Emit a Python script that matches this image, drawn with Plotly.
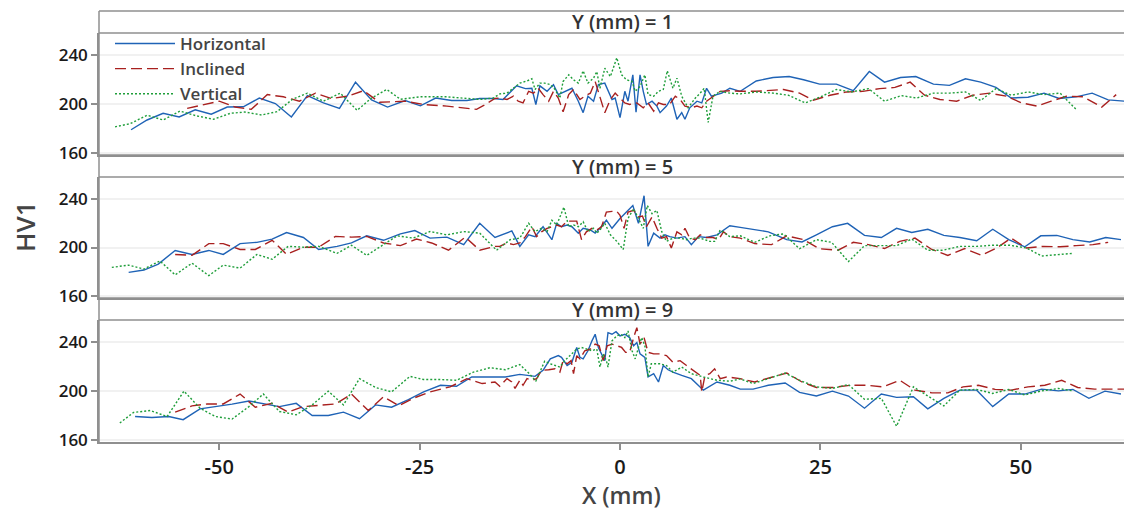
import plotly.graph_objects as go

# ---------------- data ----------------
series_names = ["Horizontal", "Inclined", "Vertical"]
panel_labels = ["Y (mm) = 1", "Y (mm) = 5", "Y (mm) = 9"]
x_tick_vals = [-50, -25, 0, 25, 50]
x_tick_text = ["-50", "-25", "0", "25", "50"]
y_tick_vals = [160, 200, 240]

# Y = 1
x_h1 = [-61, -59, -57, -55, -53, -51, -49, -47, -45, -43, -41, -39, -37, -35, -33, -31, -29, -26.8, -24.9, -23, -21, -19.1, -17.5, -15.8,
        -14.6, -12.9, -11.8, -11, -10.5, -10, -9.1, -8.3, -7.7, -6.9, -6, -5.2, -4.6, -4, -3.3, -2.7, -1.9, -1, -0.6, 0, 0.6, 1, 1.6, 2,
        2.5, 2.9, 3.3, 4, 4.6, 5, 5.8, 6.4, 7.1, 7.7, 8.1, 8.7, 9.6, 10.2, 10.8, 11.4, 12, 12.7, 13.7, 15, 17, 19.1, 21.1, 22.9, 24.9,
        27, 29.1, 31.1, 33, 35, 36.9, 39.1, 41.1, 43.1, 45, 46.9, 48.8, 50.9, 52.9, 54.8, 56.9, 58.9, 60.9, 63]
hv_h1 = [179, 187, 192.5, 189.5, 195.4, 191.7, 197.6, 197.8, 205, 200.5, 189.5, 207, 201, 196.5, 218, 203.5, 197.6, 203, 198.6, 205, 203, 203, 204.6, 204.6,
         203.8, 215, 212.7, 213, 199.7, 215, 210.5, 216, 207.8, 210.5, 213, 202.4, 193, 206.5, 202.4, 216, 217.2, 203.8, 205, 189, 210.5, 202.4, 224, 193.3,
         224, 210.5, 199.7, 202.4, 198.4, 193, 198.4, 205, 187.6, 193, 187.6, 197, 202.4, 201, 213, 206.5, 207.8, 209, 213, 210.5, 219, 221.8, 222.6, 220, 216.4,
         216.4, 211, 226.7, 218, 221.8, 222.6, 216.4, 215.4, 220.8, 218, 213.7, 205, 205.6, 209, 204.6, 206, 209, 203.5, 202.4]

x_i1 = [-54, -52, -50, -48, -46, -44, -42, -40, -38, -36, -34, -32, -30, -26.8, -24.5, -21.6, -17.9, -17, -15.6, -15, -14.1, -13.3, -12.7, -12.1,
        -11.4, -10.8, -10.2, -9.6, -8.9, -8.3, -7.7, -7.1, -6.4, -5.8, -5, -4.4, -3.7, -3.1, -2.5, -1.9, -1.2, -0.6, 0, 0.6, 1.2, 2.1, 2.9,
        3.5, 4.2, 4.8, 5.4, 6.2, 6.9, 7.5, 8.1, 8.9, 9.6, 10.2, 10.8, 11.6, 12.5, 13.7, 15, 17, 20.4, 22.4, 24.1, 26.2, 28.3, 30.3, 32.4,
        34.3, 36.2, 38, 39.9, 42, 44, 46.1, 48.2, 50.1, 52, 53.8, 55.7, 57.8, 60.1, 61.9]
hv_i1 = [196.5, 199.2, 202.4, 197.6, 195.7, 207.8, 206, 202.4, 209, 204.6, 206.5, 211, 201.5, 202.4, 199.7, 198.4, 195.7, 199, 204.6, 205, 203.8, 206.5, 202.4, 201,
         210.5, 209, 213, 207.8, 202.4, 210.5, 205, 193.8, 207.8, 212, 203.8, 206.5, 209, 218.6, 205, 193, 203.8, 209, 205, 201, 199.7, 201, 197,
         201, 194.3, 201, 199.7, 199.7, 206.5, 203.8, 198.4, 197, 198.4, 197, 202.4, 206.5, 210.5, 211, 210.5, 210.5, 212, 209, 203.2, 207.3, 210, 210.5, 212.7,
         213.7, 218, 207.3, 203.8, 202.4, 207.3, 209, 206.5, 201, 198.4, 202.4, 206.5, 206, 197.6, 207.8]

x_v1 = [-63, -61.1, -59, -57, -54.9, -52.8, -50.7, -48.6, -46.8, -44.7, -42.8, -40.9, -39, -37, -34.9, -32.8, -31, -29.1, -27.4, -24.9, -21.6, -19.1,
        -17.5, -15.8, -15, -14.1, -13.3, -12.5, -11.6, -11, -10.6, -10, -9.4, -8.7, -8.1, -7.5, -7.1, -6.4, -5.8, -5.2, -4.6, -4, -3.3, -2.9,
        -2.5, -1.9, -1.2, -0.4, 0.2, 0.8, 1.5, 1.9, 2.5, 3.1, 3.5, 4.2, 4.8, 5.4, 5.9, 6.6, 7.1, 7.7, 8.5, 9.4, 10, 10.5, 11, 11.6, 12.5,
        13.7, 15, 17, 19.1, 21, 23.1, 24.9, 27, 28.9, 31, 33, 35.1, 37, 39.1, 41.1, 43.1, 45, 46.9, 48.8, 50.9, 52.9, 54.9, 56.9]
hv_v1 = [181.4, 184, 190.9, 187, 194.3, 190.3, 187.6, 192.5, 193.5, 191.1, 193.8, 203.8, 209, 202.4, 209, 194.9, 205, 212, 204, 206, 206, 204.6,
         203.8, 205, 208.4, 209, 213, 217.2, 219, 220.8, 212, 217.2, 217.2, 216, 212, 205, 218.6, 224, 220, 217.2, 227.3, 217.2, 221.3, 226.7,
         213, 229.4, 222.6, 238, 224, 220, 218.6, 210.5, 214.5, 224, 207.8, 206.5, 210.5, 212, 227.3, 213, 221.3, 206.5, 197, 205, 209, 213, 185, 206.5, 210.5,
         209, 208.4, 210, 209, 207.3, 201, 205.6, 212, 210, 212.7, 202.4, 207, 205, 209, 209, 210, 203, 212.7, 207.3, 210, 207.8, 209, 195.7]

# Y = 5
x_h5 = [-61.3, -59.4, -57.6, -55.5, -53.4, -51.3, -49.5, -47.4, -45.3, -43.4, -41.6, -39.5, -37.6, -35.3, -33.5, -31.6, -29.5, -27.4, -25.6, -23.7,
        -21.6, -19.5, -17.5, -15.6, -13.5, -12.5, -11.4, -10.6, -9.6, -8.5, -7.9, -7.3, -6.6, -6, -5.2, -4.6, -3.7, -3.1, -2.5, -1.7, -1, 0,
        0.8, 1.6, 2.3, 3, 3.5, 4.2, 5, 5.6, 6.2, 7.1, 8.1, 8.9, 9.8, 10.8, 12.1, 13.7, 15, 18.5, 20.8, 22.7, 24.5, 26.5, 28.4, 30.5, 32.6,
        34.5, 36.4, 38.4, 40.4, 42.4, 44.5, 46.5, 48.5, 50.5, 52.5, 54.5, 56.5, 58.6, 60.6, 62.5]
hv_h5 = [179.5, 181.4, 186.3, 197.6, 194.3, 197.6, 194.3, 203.2, 204.3, 207, 212.4, 208.3, 198.4, 201, 203.8, 209.7, 206, 211.3, 214, 207.8,
         208.6, 202.4, 220, 208.3, 213.7, 201, 210.5, 209, 217.2, 206.5, 220, 217.2, 218.6, 217.2, 211.9, 215.9, 214.5, 211.9, 215.9, 222.6, 215.9, 224,
         229.3, 234.7, 220, 242.8, 201, 211.9, 207.8, 210.5, 209, 207.8, 209, 202.4, 209, 208.3, 210.5, 218, 216.7, 213, 206.5, 204.6, 210.5, 217.2, 220, 210, 208.3,
         215.9, 212.4, 215.1, 210, 208.3, 205.6, 215.1, 206.5, 200.6, 209.7, 210, 206.5, 204.6, 208.3, 206.5]

x_i5 = [-55.5, -53.4, -51.3, -49.5, -47.4, -45.5, -43.4, -41.6, -39.5, -37.6, -35.5, -33.5, -31.6, -29.5, -27.4, -25.4, -23.5, -21.4, -19.3, -17.5,
        -15.6, -15, -14.1, -13.3, -12.5, -11.8, -11, -10.4, -9.8, -9.1, -8.5, -7.9, -7.3, -6.6, -6, -5.4, -4.8, -4.2, -3.5, -2.9, -2.3, -1.7,
        -1, -0.4, 0, 0.5, 1, 1.7, 2.3, 2.8, 3.3, 4, 4.6, 5.2, 5.8, 6.4, 7.1, 7.7, 8.1, 8.7, 9.4, 10, 10.8, 11.6, 12.3, 12.9, 13.7, 15, 16.8,
        18.9, 20.8, 22.9, 24.9, 27.2, 29.1, 31, 33, 34.9, 36.8, 38.9, 40.9, 43, 45.1, 47, 48.8, 50.7, 52.8, 54.9, 56.9, 59, 60.9]
hv_i5 = [194.3, 193.5, 203.2, 203.2, 198.4, 198.4, 206, 194.3, 200.3, 200.3, 209.2, 208.6, 209.2, 203.8, 201.6, 207, 203.8, 197.8, 208.6, 197.8,
         201, 201, 203.8, 202.4, 203.8, 209, 217.2, 209, 213, 215.9, 217.2, 218.6, 217.2, 221.8, 221.8, 221.8, 206.5, 213, 215.9, 214.5, 217.2, 229.3,
         229.9, 229.9, 226.7, 215.9, 229.3, 230.7, 225.3, 226.1, 217.2, 225.3, 215.9, 207.8, 209, 199.7, 213, 210.5, 215.9, 207.8, 206.5, 210.5, 208.3, 208.3, 206.5, 213, 209, 207.8, 203.2,
         202.4, 209.7, 206.5, 199, 197.8, 204.3, 202.4, 199.2, 205.1, 207.8, 198.4, 193.5, 199.2, 193.5, 199.7, 207.8, 199.7, 201, 200.6, 201.6, 202.4, 204.3]

x_v5 = [-63.4, -61.3, -59.4, -57.4, -55.5, -53.4, -51.3, -49.5, -47.4, -45.3, -43.4, -41.4, -39.5, -37.6, -35.3, -33.5, -31.6, -29.5, -27.8, -25.8,
        -23.7, -21.6, -19.5, -17.5, -15.4, -13.7, -12.5, -11.4, -10.6, -9.8, -9.1, -8.5, -7.9, -7, -6.4, -5.8, -5.2, -4.6, -4, -3.3, -2.9, -2.5,
        -1.9, -1.2, -0.4, 0.4, 1, 1.7, 2.3, 2.9, 3.4, 4, 4.6, 5.2, 5.8, 6.6, 7.5, 8.3, 9.1, 10, 11.2, 11.8, 12.5, 13.7, 15, 16.8, 18.7, 20.4,
        22.4, 24.5, 26.4, 28.5, 30.5, 32.4, 34.5, 36.4, 38.4, 40.3, 42.4, 44.5, 46.5, 48.6, 50.7, 52.6, 54.5, 56.5]
hv_v5 = [183.6, 185.5, 182.2, 188.9, 177.4, 187.1, 176.8, 185.5, 183, 194.3, 190.3, 201, 200.3, 201, 195.2, 201.9, 193.5, 202.4, 209.7, 207.8,
         213.2, 210.5, 213.2, 211.9, 197.8, 206.5, 207.8, 220, 213.2, 215.9, 213.2, 222.6, 218.6, 233.4, 217.2, 218.6, 217.2, 221.3, 213.2, 215.9, 211.9, 214.5,
         220, 210.5, 205.1, 198.4, 224, 232.1, 224, 215.9, 234.7, 228, 230.7, 213.2, 205.1, 207.8, 207.8, 206.5, 207.8, 207.8, 205.1, 205.1, 214.5, 209, 209.7, 204.3, 209.7, 211.3,
         199, 206.5, 204.3, 188.4, 201.6, 201.6, 201.6, 207, 197.8, 197.8, 201, 201, 201.9, 201.9, 199.7, 193, 194.3, 195.2]

# Y = 9
x_h9 = [-60.5, -58.4, -56.3, -54.5, -52.4, -50.3, -48.4, -46.3, -44.5, -42.5, -40.4, -38.4, -36.4, -34.5, -32.5, -30.5, -28.5, -26.4, -24.5, -22.4,
        -20.4, -18.5, -16.4, -14.3, -12.5, -10.6, -9.6, -8.7, -7.7, -7.3, -6.6, -6, -5.4, -5, -4.6, -4, -3.5, -3.1, -2.7, -2.3, -1.9, -1.5,
        -1, -0.5, 0, 0.6, 1.2, 1.7, 2.1, 2.5, 3.1, 3.5, 4.2, 4.8, 5.4, 6, 6.6, 7.7, 8.9, 10.4, 12.1, 13.7, 15, 16.6, 18.5, 20.6, 22.4, 24.5,
        26.5, 28.5, 30.5, 32.6, 34.5, 36.6, 38.4, 40.4, 42.4, 44.5, 46.5, 48.5, 50.5, 52.6, 54.7, 56.5, 58.5, 60.5, 62.5]
hv_h9 = [179.2, 178.4, 179.2, 176.6, 185.5, 187.3, 189.3, 191.9, 190, 187.3, 190, 180, 180, 182.8, 177.4, 188.7, 186.8, 193, 199.4, 204.8,
         204, 211.6, 211.6, 211.6, 213.7, 212.1, 217, 226.4, 229.1, 227.7, 221, 223.7, 235.8, 227.7, 226.4, 233.1, 241.2, 246.6, 235.8, 230.5, 225, 247.9,
         246.6, 248.7, 245.3, 246.6, 243.9, 237.2, 239.8, 230.5, 227.7, 211.6, 214.3, 207.5, 221, 217.5, 215.6, 212.9, 210.2, 200.8, 207.5, 204.8, 201.6, 201.6, 204.8, 206.7, 199, 196,
         200, 196, 186, 197.6, 194.9, 195.4, 185.5, 194.1, 200.8, 200.8, 187.3, 197.6, 197.6, 201.6, 200.2, 201.4, 194.1, 200, 197.6]

x_i9 = [-55.5, -53.4, -51.5, -49.5, -47.4, -45.5, -43.4, -41.4, -39.5, -37.4, -35.5, -33.5, -31.4, -29.5, -27.6, -25.8, -23.7, -21.2, -19.1, -17.2,
        -15.6, -15, -14.1, -13.5, -13.1, -12.5, -12.1, -11.6, -11, -10.4, -9.8, -8.9, -8.1, -7.5, -7.1, -6.6, -6.1, -5.8, -5.4, -5, -4.4, -3.7,
        -3.1, -2.6, -2.1, -1.6, -1, -0.4, 0.2, 0.7, 1.2, 1.7, 2.1, 2.5, 3, 3.5, 4.2, 5, 5.8, 6.6, 7.5, 8.3, 9.1, 10, 10.2, 10.6, 11.2, 11.8,
        12.5, 13.3, 14.1, 15, 16.8, 18.7, 20.8, 22.7, 24.5, 26.6, 28.7, 30.8, 32.8, 34.9, 36.8, 38.9, 40.9, 42.8, 44.7, 46.8, 48.8, 50.9, 53,
        55.1, 57.1, 59.2, 61.1, 63]
hv_i9 = [182.8, 187.9, 189.5, 189.5, 197.6, 186.8, 190, 182.8, 187.3, 188.7, 189.5, 197.6, 184.1, 195.4, 188, 194.1, 199.4, 203.5, 210.2, 206.2,
         207.5, 204, 210.3, 207.5, 202.2, 208.9, 204.8, 210.2, 208.9, 210.2, 217, 217.5, 218.3, 215.6, 225, 222.4, 225, 214.3, 229.1, 226.4, 233.1, 234.5,
         238.5, 237.2, 225, 237.2, 238.5, 237.2, 235.8, 231.8, 231.8, 243.9, 252, 238.5, 243.9, 231.8, 230.5, 230.5, 229.1, 223.7, 225, 221, 217, 212.9, 199.4, 212.9, 214.3, 218.3,
         210.2, 211.6, 211, 210.2, 207.5, 211, 214.8, 207.5, 203, 203, 204.8, 204.8, 203.5, 208.9, 200.8, 198.6, 198.6, 203.5, 204.8, 201.4, 200.8, 203.5, 204.8,
         208.9, 203, 201.6, 201.6, 201.6]

x_v9 = [-62.4, -60.7, -58.6, -56.5, -54.4, -52.4, -50.5, -48.4, -46.3, -44.5, -42.5, -40.4, -38.4, -36.4, -34.5, -32.5, -30.5, -28.5, -26.2, -24.5,
        -22.4, -20.4, -18.3, -16.2, -14.3, -12.5, -11.4, -10.5, -10, -9.4, -8.7, -8.1, -7.5, -6.9, -6, -5.4, -4.8, -4.2, -3.5, -2.9, -2.5, -2.1,
        -1.7, -1.5, -1, -0.4, 0.1, 0.6, 1, 1.5, 1.9, 2.3, 2.7, 3.1, 3.5, 3.9, 5, 5.8, 6.6, 7.7, 8.9, 10.4, 12.1, 13.7, 15, 16.6, 18.7, 20.6,
        22.4, 24.5, 26.5, 28.5, 30.5, 32.6, 34.5, 36.6, 38.4, 40.4, 42.4, 44.5, 46.5, 48.5, 50.5, 52.6, 54.7, 56.5]
hv_v9 = [173.9, 182.5, 184.1, 179.2, 200, 186, 179.2, 177.1, 187.3, 197.6, 183.3, 180.6, 188.7, 200, 188.7, 210.2, 203, 199.4, 212.1, 209.5,
         209.5, 208.9, 215.6, 219.2, 217.5, 221.8, 214.8, 208.3, 215.6, 224.5, 222.4, 221, 219.7, 225, 230.5, 234.5, 235.8, 234.5, 233.1, 234.5, 219.7, 230.5,
         225, 219.7, 241.2, 245.3, 246.6, 243.9, 249.3, 233.1, 226.4, 235.8, 243.9, 237.2, 211.6, 222.4, 222.4, 221, 215.6, 219.7, 214.3, 211.6, 208.9, 208.1, 210, 206.2, 211, 214.8,
         208.9, 203.5, 202.2, 205.4, 193.3, 194.1, 171.2, 203.5, 196, 187.9, 200.8, 201.4, 198.1, 201.4, 196.8, 200.2, 202.2, 200.2]

panel_data = [
    [(x_h1, hv_h1), (x_i1, hv_i1), (x_v1, hv_v1)],
    [(x_h5, hv_h5), (x_i5, hv_i5), (x_v5, hv_v5)],
    [(x_h9, hv_h9), (x_i9, hv_i9), (x_v9, hv_v9)],
]

# ---------------- style ----------------
COLORS = ["#1f63b6", "#a8201f", "#1f9e3a"]
DASHES = ["solid", "11px,5px", "2px,2px"]
FONT = "Open Sans, Noto Sans, sans-serif"
FRAME = "#8f8f8f"

OFF = 8                      # page body margin offset
W, H = 1132 - OFF, 509 - OFF
ML, MR, MT, MB = 99 - OFF, 3, 11 - OFF, 67
PH = H - MT - MB


def py(p):
    """window pixel row -> paper y"""
    return (H - MB - (p - OFF)) / PH


def px(p):
    """window pixel column -> paper x"""
    return ((p - OFF) - ML) / (W - ML - MR)


plot_px = [(33, 155), (177, 298), (320, 442)]
strip_px = [(11, 33), (155, 177), (298, 320)]

fig = go.Figure()
for p, series in enumerate(panel_data):
    ax = "" if p == 0 else str(p + 1)
    for k, (xs, ys) in enumerate(series):
        fig.add_trace(go.Scatter(
            x=xs, y=ys, mode="lines", name=series_names[k], legendgroup=series_names[k],
            showlegend=(p == 0),
            line=dict(color=COLORS[k], width=1.4, dash=DASHES[k]),
            xaxis="x" + ax, yaxis="y" + ax,
        ))

layout = dict(
    width=W, height=H,
    margin=dict(l=ML, r=MR, t=MT, b=MB, pad=0, autoexpand=False),
    paper_bgcolor="white", plot_bgcolor="white",
    font=dict(family=FONT, color="#222"),
    showlegend=True,
    legend=dict(x=px(110), y=py(26), xanchor="left", yanchor="top",
                bgcolor="rgba(0,0,0,0)", font=dict(size=17, color="#444", weight=600),
                itemwidth=60, tracegroupgap=0),
)

for p in range(3):
    ax = "" if p == 0 else str(p + 1)
    top, bot = plot_px[p]
    layout["yaxis" + ax] = dict(
        domain=[py(bot), py(top)], anchor="x" + ax, range=[158.3, 258.3],
        tickvals=y_tick_vals, ticks="outside", ticklen=6, tickcolor=FRAME, tickwidth=1.5,
        showline=True, linecolor=FRAME, linewidth=1.5, automargin=False,
        showgrid=True, gridcolor="#f1f1f1", gridwidth=1.5, zeroline=False,
        tickfont=dict(size=17, color="#1a1a1a", weight=600),
    )
    xa = dict(
        domain=[0, 1], anchor="y" + ax, range=[-65, 63.5], automargin=False,
        showgrid=False, zeroline=False, showline=True, linecolor=FRAME, linewidth=1.5,
    )
    if p < 2:
        xa.update(showticklabels=False, ticks="", matches="x3")
    else:
        xa.update(tickvals=x_tick_vals, ticktext=x_tick_text, ticks="outside", ticklen=6,
                  tickcolor=FRAME, tickwidth=1.5,
                  tickfont=dict(size=20, color="#1a1a1a", weight=600))
    layout["xaxis" + ax] = xa

shapes = []
for (t, b) in strip_px:
    for yy in (t, b):
        shapes.append(dict(type="line", xref="paper", yref="paper", x0=0, x1=1,
                           y0=py(yy), y1=py(yy), line=dict(color=FRAME, width=1.5)))
shapes.append(dict(type="line", xref="paper", yref="paper", x0=0, x1=0,
                   y0=0, y1=1, line=dict(color=FRAME, width=1.5)))
layout["shapes"] = shapes

annotations = []
for p, (t, b) in enumerate(strip_px):
    annotations.append(dict(text=panel_labels[p], xref="paper", yref="paper",
                            x=px(622), y=py((t + b) / 2),
                            xanchor="center", yanchor="middle", showarrow=False,
                            font=dict(size=20, color="#333", weight=600)))
annotations.append(dict(text="HV1", xref="paper", yref="paper",
                        x=px(25), y=py(227), textangle=-90,
                        xanchor="center", yanchor="middle", showarrow=False,
                        font=dict(size=26, color="#444", weight=600)))
annotations.append(dict(text="X (mm)", xref="paper", yref="paper",
                        x=px(621), y=py(495),
                        xanchor="center", yanchor="middle", showarrow=False,
                        font=dict(size=23, color="#444", weight=600)))
layout["annotations"] = annotations

fig.update_layout(**layout)
fig.write_html("out.html")
